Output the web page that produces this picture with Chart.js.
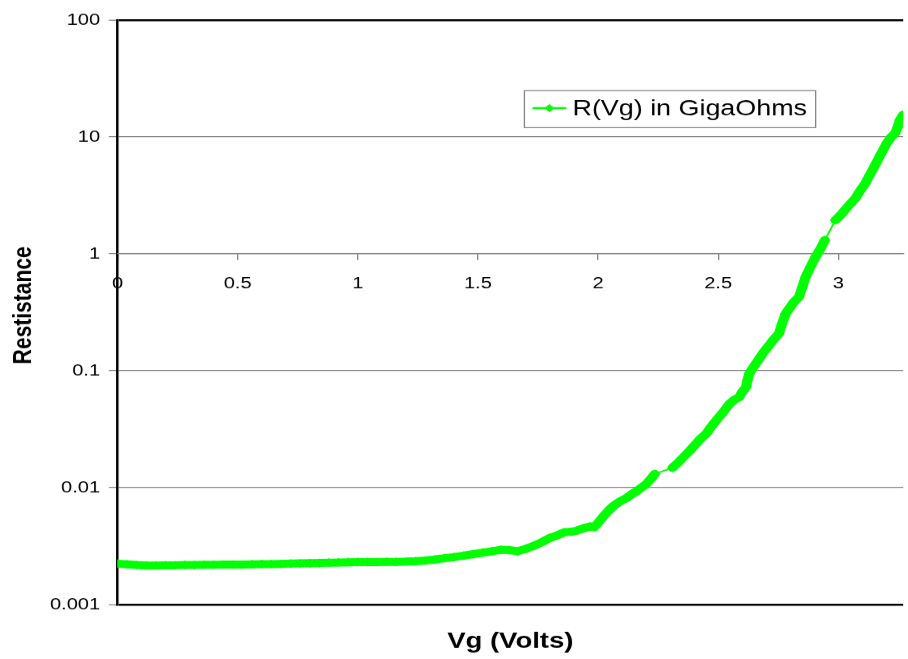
<!DOCTYPE html>
<html>
<head>
<meta charset="utf-8">
<script src="https://cdn.jsdelivr.net/npm/chart.js@4"></script>
<style>
  html, body { margin: 0; padding: 0; background: #fff; overflow: hidden; }
  /* the original picture is stretched sideways, so draw narrower and widen */
  #wrap { width: 727px; height: 659px; transform: scale(1.249, 1); transform-origin: 0 0; }
</style>
</head>
<body>
<div id="wrap"><canvas id="chart"></canvas></div>
<script>
// gate voltage (V)
const vg = [
  0.00, 0.04, 0.08, 0.12, 0.16, 0.20, 0.24, 0.28, 0.32, 0.36,
  0.40, 0.44, 0.48, 0.52, 0.56, 0.60, 0.64, 0.68, 0.72, 0.76,
  0.80, 0.84, 0.88, 0.92, 0.96, 1.00, 1.04, 1.08, 1.12, 1.16,
  1.20, 1.24, 1.28, 1.32, 1.36, 1.40, 1.44, 1.48, 1.52, 1.56,
  1.595, 1.63, 1.665, 1.70, 1.736, 1.77, 1.80, 1.83, 1.86, 1.89,
  1.913, 1.94, 1.967, 1.985, 2.00, 2.025, 2.045, 2.066, 2.09, 2.12,
  2.14, 2.161, 2.18, 2.202, 2.22, 2.236,
  2.31, 2.335, 2.355, 2.38, 2.40, 2.425, 2.45, 2.47, 2.492, 2.52,
  2.547, 2.57, 2.588, 2.60, 2.616, 2.622, 2.629, 2.65, 2.671, 2.69,
  2.712, 2.73, 2.753, 2.765, 2.781, 2.80, 2.815, 2.836, 2.85, 2.864,
  2.885, 2.905, 2.925, 2.944,
  2.988, 3.015, 3.04, 3.07, 3.09, 3.112, 3.13, 3.153, 3.175, 3.201,
  3.22, 3.236, 3.246, 3.256, 3.27
];
// resistance (GigaOhms)
const resistance = [
  0.00224, 0.00221, 0.00218, 0.00216, 0.00216, 0.00217, 0.00217, 0.00218, 0.00218, 0.00219,
  0.00219, 0.00220, 0.00220, 0.00220, 0.00221, 0.00222, 0.00222, 0.00223, 0.00224, 0.00225,
  0.00226, 0.00227, 0.00228, 0.00229, 0.00230, 0.00231, 0.00231, 0.00231, 0.00232, 0.00232,
  0.00233, 0.00235, 0.00238, 0.00243, 0.00249, 0.00255, 0.00262, 0.00270, 0.00278, 0.00286,
  0.00294, 0.00292, 0.00286, 0.00300, 0.00320, 0.00345, 0.00372, 0.00390, 0.00416, 0.00420,
  0.00430, 0.00450, 0.00465, 0.00460, 0.00500, 0.00578, 0.00640, 0.00704, 0.00760, 0.00820,
  0.00880, 0.00933, 0.0100, 0.0108, 0.0119, 0.0131,
  0.0148, 0.0165, 0.0182, 0.0205, 0.0228, 0.0260, 0.0289, 0.0330, 0.0376, 0.0440,
  0.0522, 0.0570, 0.0596, 0.0660, 0.0725, 0.0830, 0.0944, 0.110, 0.127, 0.145,
  0.165, 0.185, 0.208, 0.250, 0.308, 0.350, 0.387, 0.428, 0.520, 0.634,
  0.780, 0.940, 1.10, 1.31,
  1.94, 2.21, 2.55, 2.97, 3.45, 4.00, 4.70, 5.74, 7.00, 8.80,
  10.0, 10.7, 12.0, 13.9, 15.5
];
const yTicks = [0.001, 0.01, 0.1, 1, 10, 100];
const seriesLabel = 'R(Vg) in GigaOhms';
const xTitle = 'Vg (Volts)';
const yTitle = 'Restistance';

const green = '#00ff00';
const fontFamily = '"Liberation Sans", Arial, Helvetica, sans-serif';

// titles and the boxed legend, drawn Excel style
const decorations = {
  id: 'decorations',
  afterDraw(chart) {
    const ctx = chart.ctx;
    const area = chart.chartArea;
    ctx.save();
    ctx.fillStyle = '#000';
    ctx.textAlign = 'center';
    ctx.textBaseline = 'middle';
    ctx.font = 'bold 22px ' + fontFamily;
    ctx.fillText(xTitle, (area.left + area.right) / 2, 641);
    ctx.save();
    ctx.translate(19, 305);
    ctx.rotate(-Math.PI / 2);
    ctx.font = 'bold 21px ' + fontFamily;
    ctx.fillText(yTitle, 0, 0);
    ctx.restore();

    // legend
    ctx.strokeStyle = '#808080';
    ctx.lineWidth = 1;
    ctx.strokeRect(419.5, 90.5, 233, 37);
    ctx.strokeStyle = green;
    ctx.lineWidth = 2;
    ctx.beginPath();
    ctx.moveTo(426, 108);
    ctx.lineTo(453, 108);
    ctx.stroke();
    ctx.fillStyle = green;
    ctx.beginPath();
    ctx.moveTo(439.5, 104);
    ctx.lineTo(443.5, 108);
    ctx.lineTo(439.5, 112);
    ctx.lineTo(435.5, 108);
    ctx.closePath();
    ctx.fill();
    ctx.fillStyle = '#000';
    ctx.textAlign = 'left';
    ctx.font = '21.5px ' + fontFamily;
    ctx.fillText(seriesLabel, 458, 109);
    ctx.restore();
  }
};

new Chart(document.getElementById('chart'), {
  type: 'line',
  data: {
    datasets: [{
      label: seriesLabel,
      data: vg.map((v, i) => ({ x: v, y: resistance[i] })),
      borderColor: green,
      backgroundColor: green,
      borderWidth: 8,
      borderJoinStyle: 'round',
      borderCapStyle: 'round',
      pointStyle: 'rectRot',
      pointRadius: 4.5,
      pointBorderWidth: 0,
      pointBackgroundColor: green,
      // sparse stretches show only the thin connecting line
      segment: {
        borderWidth: c => (c.p1.parsed.x - c.p0.parsed.x > 0.041 ? 1.5 : 8)
      }
    }]
  },
  options: {
    responsive: true,
    maintainAspectRatio: false,
    animation: false,
    devicePixelRatio: 1.25,
    layout: { padding: { top: 20, bottom: 55, left: 0, right: 0 } },
    plugins: {
      legend: { display: false },
      tooltip: { enabled: false }
    },
    scales: {
      y: {
        type: 'logarithmic',
        min: 0.001,
        max: 100,
        afterBuildTicks: scale => { scale.ticks = yTicks.map(v => ({ value: v })); },
        afterFit: scale => { scale.width = 94; },
        ticks: {
          autoSkip: false,
          color: '#000',
          padding: 7,
          font: { family: fontFamily, size: 16 },
          callback: v => String(v)
        },
        grid: {
          color: c => (c.tick && (c.tick.value === 100 || c.tick.value === 0.001) ? '#000' : '#808080'),
          lineWidth: c => (c.tick && (c.tick.value === 100 || c.tick.value === 0.001) ? 2 : 1),
          tickColor: '#808080',
          tickWidth: 1,
          tickLength: 7
        },
        border: { color: '#000', width: 2 }
      },
      x: {
        type: 'linear',
        position: { y: 1 },
        min: 0,
        max: 3.27,
        ticks: {
          stepSize: 0.5,
          includeBounds: false,
          color: '#000',
          padding: 14,
          maxRotation: 0,
          font: { family: fontFamily, size: 16 },
          callback: v => String(v)
        },
        grid: {
          drawOnChartArea: false,
          color: '#808080',
          tickLength: 6
        },
        border: { color: '#808080', width: 1 }
      }
    }
  },
  plugins: [decorations]
});
</script>
</body>
</html>
